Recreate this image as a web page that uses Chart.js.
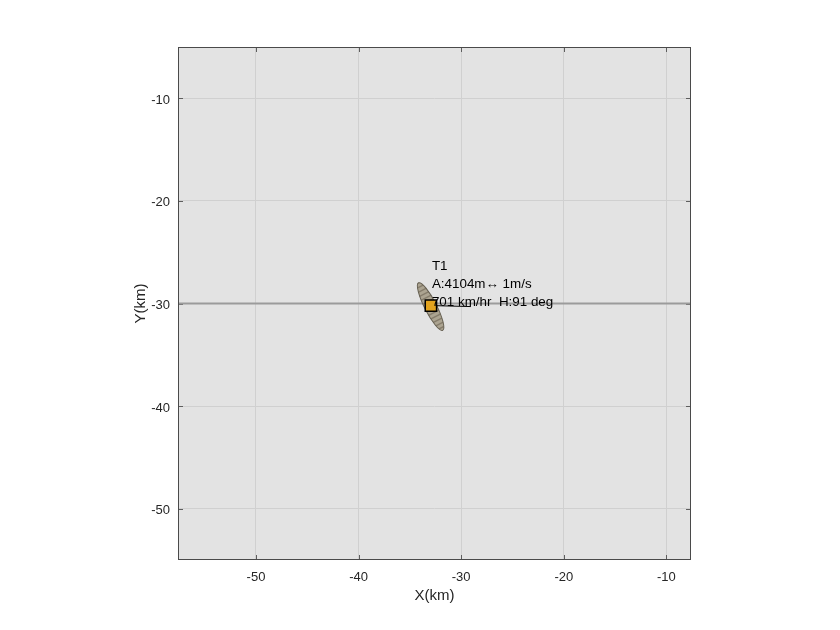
<!DOCTYPE html>
<html>
<head>
<meta charset="utf-8">
<script src="https://cdn.jsdelivr.net/npm/chart.js@4.4.1/dist/chart.umd.min.js"></script>
<style>
html,body{margin:0;padding:0;background:#fff;}
#wrap{width:840px;height:630px;}
</style>
</head>
<body>
<div id="wrap"><canvas id="c" width="840" height="630"></canvas></div>
<script>
// ---- data ----
const xRange = [-57.6, -7.6];
const yRange = [-55, -5];
const xTicks = [-50, -40, -30, -20, -10];
const yTicks = [-50, -40, -30, -20, -10];
const refLineX = [-57.6, -7.6];
const refLineY = [-30, -30];
const targetPos = [-32.95, -30.2];
const velocityEnd = [-29.05, -30.3];
const ellipseCenter = [-32.98, -30.3];
const ellipseAxes = [2.6, 0.58];   // semi-major, semi-minor (km)
const ellipseAngleDeg = -63;
const labelLines = ["T1", "A:4104m\u2194 1m/s", "701 km/hr  H:91 deg"];

const FONT = "'Liberation Sans', Arial, Helvetica, sans-serif";

const ellipsePlugin = {
  id: 'ellipse',
  afterDatasetDraw(chart, args) {
    if (args.index !== 0) return;
    const ctx = chart.ctx, xs = chart.scales.x, ys = chart.scales.y;
    const cx = xs.getPixelForValue(ellipseCenter[0]);
    const cy = ys.getPixelForValue(ellipseCenter[1]);
    const pxPerX = Math.abs(xs.getPixelForValue(1) - xs.getPixelForValue(0));
    const pxPerY = Math.abs(ys.getPixelForValue(1) - ys.getPixelForValue(0));
    const a = ellipseAxes[0] * pxPerX, b = ellipseAxes[1] * pxPerY;
    const rot = -ellipseAngleDeg * Math.PI / 180;
    ctx.save();
    ctx.translate(cx, cy);
    ctx.rotate(rot);
    ctx.beginPath();
    ctx.ellipse(0, 0, a, b, 0, 0, Math.PI * 2);
    ctx.fillStyle = '#aca491';
    ctx.fill();
    ctx.save();
    ctx.clip();
    ctx.strokeStyle = '#857c6b';
    ctx.lineWidth = 1.4;
    for (let t = -a; t <= a; t += 4.2) {
      ctx.beginPath();
      ctx.moveTo(t, -b - 2);
      ctx.lineTo(t, b + 2);
      ctx.stroke();
    }
    ctx.restore();
    ctx.beginPath();
    ctx.ellipse(0, 0, a, b, 0, 0, Math.PI * 2);
    ctx.strokeStyle = '#666052';
    ctx.lineWidth = 1;
    ctx.stroke();
    ctx.restore();
  }
};

const framePlugin = {
  id: 'frame',
  beforeDatasetsDraw(chart) {
    const ctx = chart.ctx, ca = chart.chartArea, xs = chart.scales.x, ys = chart.scales.y;
    ctx.save();
    ctx.strokeStyle = '#5e5e5e';
    ctx.lineWidth = 1;
    const tl = 5;
    xTicks.forEach(v => {
      const p = Math.round(xs.getPixelForValue(v)) + 0.5;
      ctx.beginPath();
      ctx.moveTo(p, ca.bottom); ctx.lineTo(p, ca.bottom - tl);
      ctx.moveTo(p, ca.top); ctx.lineTo(p, ca.top + tl);
      ctx.stroke();
    });
    yTicks.forEach(v => {
      const p = Math.round(ys.getPixelForValue(v)) + 0.5;
      ctx.beginPath();
      ctx.moveTo(ca.left, p); ctx.lineTo(ca.left + tl, p);
      ctx.moveTo(ca.right, p); ctx.lineTo(ca.right - tl, p);
      ctx.stroke();
    });
    ctx.restore();
  },
  afterDraw(chart) {
    const ctx = chart.ctx, ca = chart.chartArea;
    ctx.save();
    ctx.strokeStyle = '#4a4a4a';
    ctx.lineWidth = 1;
    ctx.strokeRect(Math.round(ca.left) + 0.5, Math.round(ca.top) + 0.5,
                   Math.round(ca.right - ca.left) - 1, Math.round(ca.bottom - ca.top) - 1);
    ctx.restore();
  }
};

const labelPlugin = {
  id: 'labels',
  afterDatasetsDraw(chart) {
    const ctx = chart.ctx, xs = chart.scales.x, ys = chart.scales.y;
    const px = xs.getPixelForValue(targetPos[0]);
    const py = ys.getPixelForValue(targetPos[1]);
    ctx.save();
    ctx.fillStyle = '#000';
    ctx.font = '13.4px ' + FONT;
    ctx.textBaseline = 'middle';
    ctx.textAlign = 'left';
    const offs = [-39, -21, -3];
    labelLines.forEach((t, i) => ctx.fillText(t, px + 1, py + offs[i]));
    ctx.restore();
  }
};

const bgPlugin = {
  id: 'bg',
  beforeDraw(chart) {
    const ctx = chart.ctx, ca = chart.chartArea;
    ctx.save();
    ctx.fillStyle = '#fff';
    ctx.fillRect(0, 0, chart.width, chart.height);
    ctx.fillStyle = '#e3e3e3';
    ctx.fillRect(ca.left, ca.top, ca.right - ca.left, ca.bottom - ca.top);
    ctx.restore();
  }
};

new Chart(document.getElementById('c'), {
  type: 'scatter',
  data: {
    datasets: [
      {
        data: refLineX.map((x, i) => ({x, y: refLineY[i]})),
        showLine: true, borderColor: '#9b9b9b', borderWidth: 2, pointRadius: 0, order: 3
      },
      {
        data: [{x: targetPos[0], y: targetPos[1]}, {x: velocityEnd[0], y: velocityEnd[1]}],
        showLine: true, borderColor: '#000', borderWidth: 1, pointRadius: 0, order: 2
      },
      {
        data: [{x: targetPos[0], y: targetPos[1]}],
        pointStyle: 'rect', pointRadius: 8, backgroundColor: '#e2a31e',
        borderColor: '#000', borderWidth: 1.5, order: 1
      }
    ]
  },
  options: {
    responsive: false,
    animation: false,
    events: [],
    layout: { padding: { left: 0, right: 149, top: 47, bottom: 0 } },
    plugins: { legend: { display: false }, tooltip: { enabled: false } },
    scales: {
      x: {
        type: 'linear', min: xRange[0], max: xRange[1],
        afterBuildTicks: s => { s.ticks = xTicks.map(v => ({value: v})); },
        afterFit: s => { s.height = 70; },
        grid: { color: '#d0d0d0', drawTicks: false },
        border: { display: false },
        ticks: { padding: 10, color: '#262626', font: { family: FONT, size: 13 }, maxRotation: 0 },
        title: { display: true, text: 'X(km)', color: '#262626', font: { family: FONT, size: 15 }, padding: { top: 0, bottom: 25 } }
      },
      y: {
        type: 'linear', min: yRange[0], max: yRange[1],
        afterBuildTicks: s => { s.ticks = yTicks.map(v => ({value: v})); },
        afterFit: s => { s.width = 178; },
        grid: { color: '#d0d0d0', drawTicks: false },
        border: { display: false },
        ticks: { padding: 8, labelOffset: 2, color: '#262626', font: { family: FONT, size: 13 } },
        title: { display: true, text: 'Y(km)', color: '#262626', font: { family: FONT, size: 15 }, padding: { top: 132, bottom: 0 } }
      }
    }
  },
  plugins: [bgPlugin, framePlugin, ellipsePlugin, labelPlugin]
});
</script>
</body>
</html>
